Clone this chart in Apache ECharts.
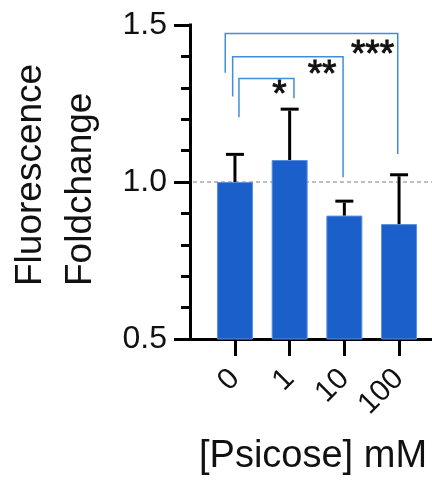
<!DOCTYPE html>
<html>
<head>
<meta charset="utf-8">
<script src="https://cdn.jsdelivr.net/npm/echarts@6/dist/echarts.min.js"></script>
<style>
html,body{margin:0;padding:0;background:#fff;}
#chart{width:432px;height:481px;}
</style>
</head>
<body>
<div id="chart"></div>
<script>
// ---- data ----
const categories = ['0', '1', '10', '100'];
const meanValues = [1.000, 1.070, 0.893, 0.866];
const sdValues = [0.088, 0.162, 0.046, 0.157];
const yTicks = [0.5, 1.0, 1.5];
const referenceLevel = [1.0];
// significance brackets: from category index, to category index, top level, left end level, right end level
const bracketFrom = [0, 0, 0];
const bracketTo = [1, 2, 3];
const bracketTop = [1.330, 1.399, 1.473];
const bracketLeftEnd = [1.206, 1.272, 1.348];
const bracketRightEnd = [1.267, 1.015, 1.089];
const bracketLabels = ['*', '**', '***'];
const yTitleLines = ['Fluorescence', 'Foldchange'];
const xTitle = '[Psicose] mM';

// ---- style ----
const FONT = '"Liberation Sans", Arial, sans-serif';
const TEXT = '#111';
const BAR = '#1b5fcb';
const BRACKET = '#3f8fd8';
const leftOffsets = [4, -2.3, -9.7];
const rightOffsets = [4.3, -1.3, -1.3];
const starDx = [-14.5, -21, -25.2];
const starDy = [9.2, 10.5, 13.7];

const chart = echarts.init(document.getElementById('chart'), null, {renderer: 'canvas'});

const yMin = yTicks[0], yMax = yTicks[yTicks.length - 1], yInt = yTicks[1] - yTicks[0];

const option = {
  backgroundColor: '#fff',
  animation: false,
  grid: [
    {left: 207.6, right: 5.6, top: 25, bottom: 142},
    {left: 190, right: 0, top: 25, bottom: 142}
  ],
  xAxis: [
    {
      type: 'category', gridIndex: 0, data: categories,
      axisLine: {show: false},
      axisTick: {show: true, interval: 0, alignWithLabel: true, length: 17, lineStyle: {color: '#000', width: 3}},
      axisLabel: {interval: 0, hideOverlap: false, rotate: 45, margin: 35, fontSize: 30, fontFamily: FONT, color: TEXT},
      splitLine: {show: false}
    },
    {
      type: 'value', gridIndex: 1, min: 0, max: 1,
      axisLine: {show: true, lineStyle: {color: '#000', width: 3}},
      axisTick: {show: false}, axisLabel: {show: false}, splitLine: {show: false}
    }
  ],
  yAxis: [
    {type: 'value', gridIndex: 0, min: yMin, max: yMax, interval: yInt, show: false, splitLine: {show: false}},
    {
      type: 'value', gridIndex: 1, min: yMin, max: yMax, interval: yInt,
      axisLine: {show: true, lineStyle: {color: '#000', width: 3, cap: 'square'}},
      axisTick: {show: true, length: 16, lineStyle: {color: '#000', width: 3}},
      minorTick: {show: true, splitNumber: 5, length: 9, lineStyle: {color: '#000', width: 3}},
      axisLabel: {margin: 23, fontSize: 32, fontFamily: FONT, color: TEXT, formatter: v => v.toFixed(1)},
      splitLine: {show: false}, minorSplitLine: {show: false}
    }
  ],
  series: [
    {
      type: 'custom', xAxisIndex: 1, yAxisIndex: 1, z: 1,
      data: referenceLevel.map(v => [0, v]),
      encode: {x: 0, y: 1},
      renderItem: function (params, api) {
        const cs = params.coordSys;
        const y = api.coord([0, api.value(1)])[1];
        return {
          type: 'line',
          shape: {x1: cs.x + 3, y1: y, x2: cs.x + cs.width, y2: y},
          style: {stroke: '#aaa', lineWidth: 1.5, lineDash: [4, 3]}
        };
      }
    },
    {
      type: 'bar', xAxisIndex: 0, yAxisIndex: 0, z: 2,
      data: meanValues,
      barWidth: 36,
      itemStyle: {color: BAR, borderColor: '#5d8fdc', borderWidth: 1}
    },
    {
      type: 'custom', xAxisIndex: 0, yAxisIndex: 0, z: 3,
      data: meanValues.map((m, i) => [i, m, m + sdValues[i]]),
      encode: {x: 0, y: [1, 2]},
      renderItem: function (params, api) {
        const b = api.coord([api.value(0), api.value(1)]);
        const t = api.coord([api.value(0), api.value(2)]);
        return {
          type: 'group',
          children: [
            {type: 'line', shape: {x1: b[0], y1: b[1], x2: t[0], y2: t[1] + 1.5}, style: {stroke: '#000', lineWidth: 3}},
            {type: 'line', shape: {x1: t[0] - 9, y1: t[1], x2: t[0] + 9, y2: t[1]}, style: {stroke: '#000', lineWidth: 3}}
          ]
        };
      }
    },
    {
      type: 'custom', xAxisIndex: 0, yAxisIndex: 0, z: 4,
      data: bracketFrom.map((f, i) => [f, bracketTo[i], bracketTop[i], bracketLeftEnd[i], bracketRightEnd[i]]),
      encode: {x: [0, 1], y: [2, 3, 4]},
      renderItem: function (params, api) {
        const i = params.dataIndex;
        const xl = api.coord([api.value(0), api.value(2)])[0] + leftOffsets[i];
        const xr = api.coord([api.value(1), api.value(2)])[0] + rightOffsets[i];
        const yt = api.coord([api.value(0), api.value(2)])[1];
        const yl = api.coord([api.value(0), api.value(3)])[1];
        const yr = api.coord([api.value(1), api.value(4)])[1];
        return {
          type: 'group',
          children: [
            {type: 'polyline', shape: {points: [[xl, yl], [xl, yt], [xr, yt], [xr, yr]]},
             style: {stroke: BRACKET, lineWidth: 1.5, fill: null}},
            {type: 'text', style: {text: bracketLabels[i], x: xr + starDx[i], y: yt + starDy[i] + 8.5,
             align: 'center', verticalAlign: 'middle', font: '37px ' + FONT, fill: TEXT,
             stroke: TEXT, lineWidth: 0.9}}
          ]
        };
      }
    }
  ],
  graphic: [
    {type: 'text', x: 30.8, y: 286, rotation: Math.PI / 2,
     style: {text: yTitleLines[0], font: '37px ' + FONT, fill: TEXT, align: 'left', verticalAlign: 'middle'}},
    {type: 'text', x: 80.3, y: 286, rotation: Math.PI / 2,
     style: {text: yTitleLines[1], font: '37px ' + FONT, fill: TEXT, align: 'left', verticalAlign: 'middle'}},
    {type: 'text', x: 199, y: 456.5,
     style: {text: xTitle, font: '38px ' + FONT, fill: TEXT, align: 'left', verticalAlign: 'middle'}}
  ]
};
chart.setOption(option);
</script>
</body>
</html>
